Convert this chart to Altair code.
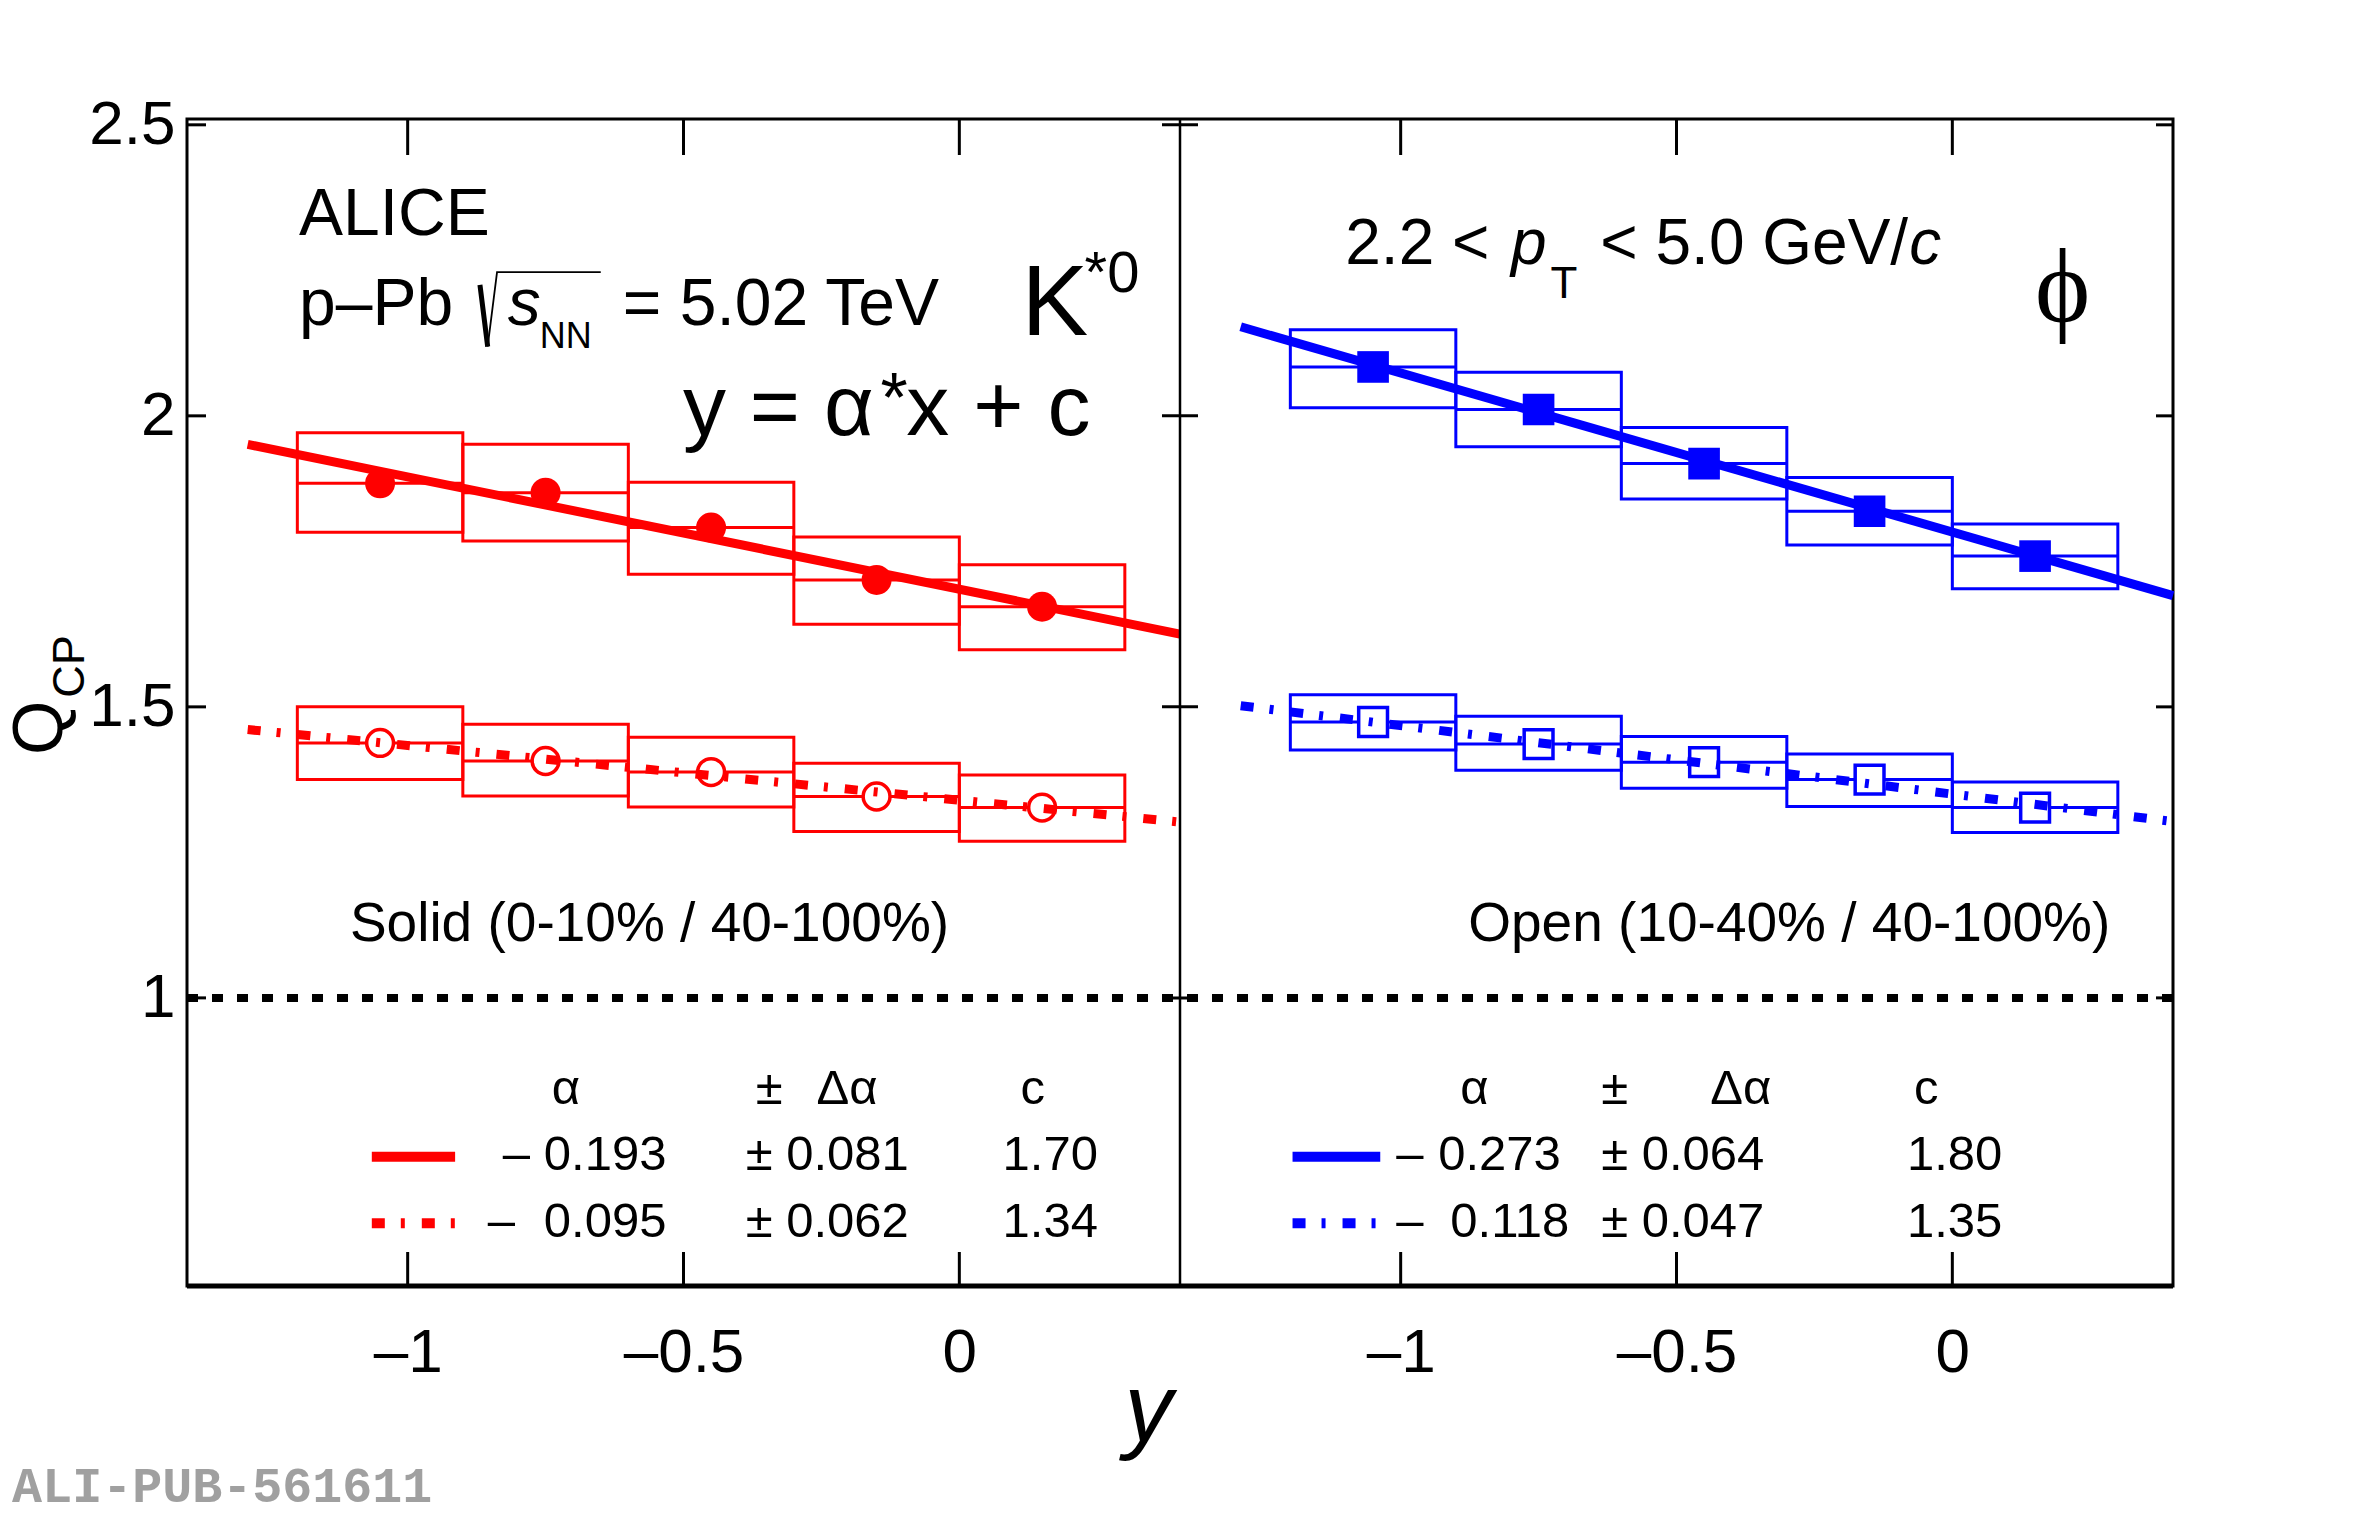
import altair as alt
import pandas as pd

# ---------------- data ----------------
rapidity = [-1.05, -0.75, -0.45, -0.15, 0.15]
bin_half = 0.15
phi_shift = 1.8  # right panel drawn on a shifted copy of the same rapidity axis

k_central = [1.884, 1.868, 1.808, 1.718, 1.672]
k_central_lo = [1.800, 1.785, 1.728, 1.642, 1.598]
k_central_hi = [1.971, 1.951, 1.886, 1.792, 1.744]
k_mid = [1.438, 1.407, 1.388, 1.346, 1.327]
k_mid_lo = [1.375, 1.347, 1.328, 1.286, 1.269]
k_mid_hi = [1.500, 1.470, 1.448, 1.403, 1.383]

phi_central = [2.084, 2.011, 1.918, 1.836, 1.759]
phi_central_lo = [2.014, 1.947, 1.857, 1.778, 1.703]
phi_central_hi = [2.148, 2.075, 1.980, 1.894, 1.814]
phi_mid = [1.474, 1.436, 1.405, 1.375, 1.327]
phi_mid_lo = [1.426, 1.391, 1.360, 1.329, 1.284]
phi_mid_hi = [1.521, 1.484, 1.449, 1.419, 1.371]

fit_x = [-1.29, 0.40]
k_central_fit = [1.951, 1.625]
k_mid_fit = [1.461, 1.302]
phi_central_fit = [2.153, 1.691]
phi_mid_fit = [1.502, 1.303]

x_tick_values = [-1.0, -0.5, 0.0]
x_tick_labels = ["\u20131", "\u20130.5", "0"]
y_tick_values = [1.0, 1.5, 2.0, 2.5]

RED = "#ff0000"
BLUE = "#0000ff"
FONT = "Liberation Sans"
W, H = 1986, 1167

# ---------------- scales / axes ----------------
xs = alt.Scale(domain=[-1.4, 2.2], nice=False, zero=False)
ys = alt.Scale(domain=[0.505, 2.51], nice=False, zero=False)

all_x_ticks = x_tick_values + [v + phi_shift for v in x_tick_values]
all_x_labels = x_tick_labels + x_tick_labels
expr = "''"
for v, lab in reversed(list(zip(all_x_ticks, all_x_labels))):
    expr = f"(abs(datum.value - ({v})) < 0.01 ? '{lab}' : {expr})"

xaxis = alt.Axis(values=all_x_ticks, labelExpr=expr, ticks=False, domain=False, grid=False,
                 labelFontSize=62, labelFont=FONT, labelColor="black", labelPadding=36,
                 labelFlush=False, labelOverlap=False, title=None)
yaxis = alt.Axis(values=y_tick_values, format="~g", ticks=False, domain=False, grid=False,
                 labelFontSize=62, labelFont=FONT, labelColor="black", labelPadding=12,
                 labelOverlap=False, title=None)


def X(f):
    return alt.X(f, type="quantitative", scale=xs, axis=xaxis)


def Y(f):
    return alt.Y(f, type="quantitative", scale=ys, axis=yaxis)


def series(vals, lo, hi, shift):
    return pd.DataFrame({
        "X": [r + shift for r in rapidity],
        "xl": [r - bin_half + shift for r in rapidity],
        "xr": [r + bin_half + shift for r in rapidity],
        "v": vals, "lo": lo, "hi": hi,
    })


def fit(vals, shift):
    return pd.DataFrame({"X": [x + shift for x in fit_x], "v": vals})


kc = series(k_central, k_central_lo, k_central_hi, 0.0)
km = series(k_mid, k_mid_lo, k_mid_hi, 0.0)
pc = series(phi_central, phi_central_lo, phi_central_hi, phi_shift)
pm = series(phi_mid, phi_mid_lo, phi_mid_hi, phi_shift)

layers = []

# systematic boxes and bin-width lines
for df, col in [(kc, RED), (km, RED), (pc, BLUE), (pm, BLUE)]:
    layers.append(alt.Chart(df).mark_rect(fill="white", fillOpacity=0, stroke=col, strokeWidth=3)
                  .encode(x=X("xl"), x2="xr", y=Y("lo"), y2="hi"))
    layers.append(alt.Chart(df).mark_rule(color=col, strokeWidth=3)
                  .encode(x=X("xl"), x2="xr", y=Y("v")))

# unity line
layers.append(alt.Chart(pd.DataFrame({"v": [1.0]})).mark_rule(color="black", strokeWidth=8, strokeDash=[11, 14])
              .encode(y=Y("v")))

# markers
layers.append(alt.Chart(kc).mark_point(shape="circle", filled=True, color=RED, size=900, opacity=1)
              .encode(x=X("X"), y=Y("v")))
layers.append(alt.Chart(km).mark_point(shape="circle", fill="white", fillOpacity=1, stroke=RED, strokeWidth=3.5,
                                       size=720, opacity=1)
              .encode(x=X("X"), y=Y("v")))
layers.append(alt.Chart(pc).mark_point(shape="square", filled=True, color=BLUE, size=1000, opacity=1)
              .encode(x=X("X"), y=Y("v")))
layers.append(alt.Chart(pm).mark_point(shape="square", fill="white", fillOpacity=1, stroke=BLUE, strokeWidth=3.5,
                                       size=830, opacity=1)
              .encode(x=X("X"), y=Y("v")))

# fit lines
DOT = [13, 16, 4, 17]
layers.append(alt.Chart(fit(k_central_fit, 0.0)).mark_line(color=RED, strokeWidth=9)
              .encode(x=X("X"), y=Y("v")))
layers.append(alt.Chart(fit(k_mid_fit, 0.0)).mark_line(color=RED, strokeWidth=9, strokeDash=DOT)
              .encode(x=X("X"), y=Y("v")))
layers.append(alt.Chart(fit(phi_central_fit, phi_shift)).mark_line(color=BLUE, strokeWidth=9)
              .encode(x=X("X"), y=Y("v")))
layers.append(alt.Chart(fit(phi_mid_fit, phi_shift)).mark_line(color=BLUE, strokeWidth=9, strokeDash=DOT)
              .encode(x=X("X"), y=Y("v")))

# legend line samples
leg_left = [-1.065, -0.914]
leg_right = [0.604, 0.763]
leg_row_y = [0.727, 0.613]
for xx, col in [(leg_left, RED), (leg_right, BLUE)]:
    layers.append(alt.Chart(pd.DataFrame({"X": xx, "v": [leg_row_y[0]] * 2}))
                  .mark_line(color=col, strokeWidth=10).encode(x=X("X"), y=Y("v")))
    layers.append(alt.Chart(pd.DataFrame({"X": xx, "v": [leg_row_y[1]] * 2}))
                  .mark_line(color=col, strokeWidth=10, strokeDash=DOT).encode(x=X("X"), y=Y("v")))

# frame: divider, ticks
layers.append(alt.Chart(pd.DataFrame({"X": [0.4]})).mark_rule(color="black", strokeWidth=2.5)
              .encode(x=X("X")))
xt = pd.DataFrame({"X": all_x_ticks})
layers.append(alt.Chart(xt).mark_rule(color="black", strokeWidth=3)
              .encode(x=X("X"), y=alt.value(0), y2=alt.value(36)))
layers.append(alt.Chart(xt).mark_rule(color="black", strokeWidth=3)
              .encode(x=X("X"), y=alt.value(H), y2=alt.value(H - 34)))
yt = pd.DataFrame({"v": y_tick_values, "div": [0.4] * len(y_tick_values)})
layers.append(alt.Chart(yt).mark_rule(color="black", strokeWidth=3)
              .encode(y=Y("v"), x=alt.value(0), x2=alt.value(19)))
layers.append(alt.Chart(yt).mark_rule(color="black", strokeWidth=3)
              .encode(y=Y("v"), x=alt.value(W), x2=alt.value(W - 17)))
layers.append(alt.Chart(yt).mark_rule(color="black", strokeWidth=3, xOffset=-18, x2Offset=18)
              .encode(y=Y("v"), x=X("div"), x2="div"))
layers.append(alt.Chart(pd.DataFrame({"v": [0]})).mark_rule(color="black", strokeWidth=5)
              .encode(x=alt.value(0), x2=alt.value(W), y=alt.value(H)))

# radical sign of sqrt(s_NN)
layers.append(alt.Chart(pd.DataFrame({"X": [-0.869, -0.855], "v": [2.225, 2.119]}))
              .mark_line(color="black", strokeWidth=5).encode(x=X("X"), y=Y("v")))
layers.append(alt.Chart(pd.DataFrame({"X": [-0.855, -0.838, -0.650], "v": [2.119, 2.247, 2.247]}))
              .mark_line(color="black", strokeWidth=1.8).encode(x=X("X"), y=Y("v")))


# ---------------- text ----------------
def texts(rows, size, style="normal", font=FONT, align="left", angle=0, color="black", weight="normal"):
    df = pd.DataFrame(rows, columns=["X", "Y", "t"])
    return (alt.Chart(df).mark_text(align=align, baseline="alphabetic", fontSize=size, font=font,
                                    fontStyle=style, fontWeight=weight, angle=angle, color=color)
            .encode(x=X("X"), y=Y("Y"), text="t"))


layers.append(texts([(-1.197, 2.311, "ALICE"), (-1.197, 2.156, "p\u2013Pb"),
                     (-0.610, 2.156, "= 5.02 TeV")], 66))
layers.append(texts([(-0.8185, 2.156, "s")], 66, style="italic"))
layers.append(texts([(-0.7605, 2.117, "NN")], 36))
layers.append(texts([(0.1127, 2.139, "K")], 100))
layers.append(texts([(0.227, 2.213, "*0")], 58))
layers.append(texts([(-0.501, 1.967, "y = \u03b1"), (-0.096, 1.967, "x + c")], 86))
layers.append(texts([(-0.143, 1.990, "*")], 70))

layers.append(texts([(0.6996, 2.261, "2.2 <"), (1.162, 2.261, "< 5.0 GeV/")], 64))
layers.append(texts([(1.0, 2.261, "p"), (1.722, 2.261, "c")], 64, style="italic"))
layers.append(texts([(1.0716, 2.203, "T")], 44))
layers.append(texts([(2.0, 2.163, "\u03d5")], 105, font="Liberation Serif", align="center"))

layers.append(texts([(-1.1047, 1.098, "Solid (0-10% / 40-100%)"),
                     (0.9225, 1.098, "Open (10-40% / 40-100%)")], 55))

# legend table
hdr_y, r1, r2 = 0.818, 0.7045, 0.589
legend_rows = [
    (-0.7388, hdr_y, "\u03b1"), (-0.369, hdr_y, "\u00b1"), (-0.2587, hdr_y, "\u0394\u03b1"), (0.1109, hdr_y, "c"),
    (-0.8275, r1, "\u2013"), (-0.7533, r1, "0.193"), (-0.3873, r1, "\u00b1 0.081"), (0.0783, r1, "1.70"),
    (-0.8547, r2, "\u2013"), (-0.7533, r2, "0.095"), (-0.3873, r2, "\u00b1 0.062"), (0.0783, r2, "1.34"),
    (0.908, hdr_y, "\u03b1"), (1.1634, hdr_y, "\u00b1"), (1.361, hdr_y, "\u0394\u03b1"), (1.7304, hdr_y, "c"),
    (0.792, r1, "\u2013"), (0.868, r1, "0.273"), (1.1634, r1, "\u00b1 0.064"), (1.7177, r1, "1.80"),
    (0.792, r2, "\u2013"), (0.8899, r2, "0.118"), (1.1634, r2, "\u00b1 0.047"), (1.7177, r2, "1.35"),
]
layers.append(texts(legend_rows, 49))

# axis titles
layers.append(texts([(-1.626, 1.4175, "Q")], 70, angle=270))
layers.append(texts([(-1.5866, 1.5155, "CP")], 45, angle=270))
layers.append(texts([(0.3428, 0.2388, "y")], 96, style="italic", align="center"))

# publication id
layers.append(texts([(-1.717, 0.134, "ALI-PUB-561611")], 50, font="Liberation Mono", color="#a0a0a0",
                    weight="bold"))

chart = (alt.layer(*layers)
         .properties(width=W, height=H, background="white",
                     autosize=alt.AutoSizeParams(type="none"),
                     padding={"left": 179, "top": 111, "right": 182, "bottom": 219})
         .configure_view(stroke="black", strokeWidth=3))

chart.save("out.html", embed_options={"renderer": "svg", "actions": False})
